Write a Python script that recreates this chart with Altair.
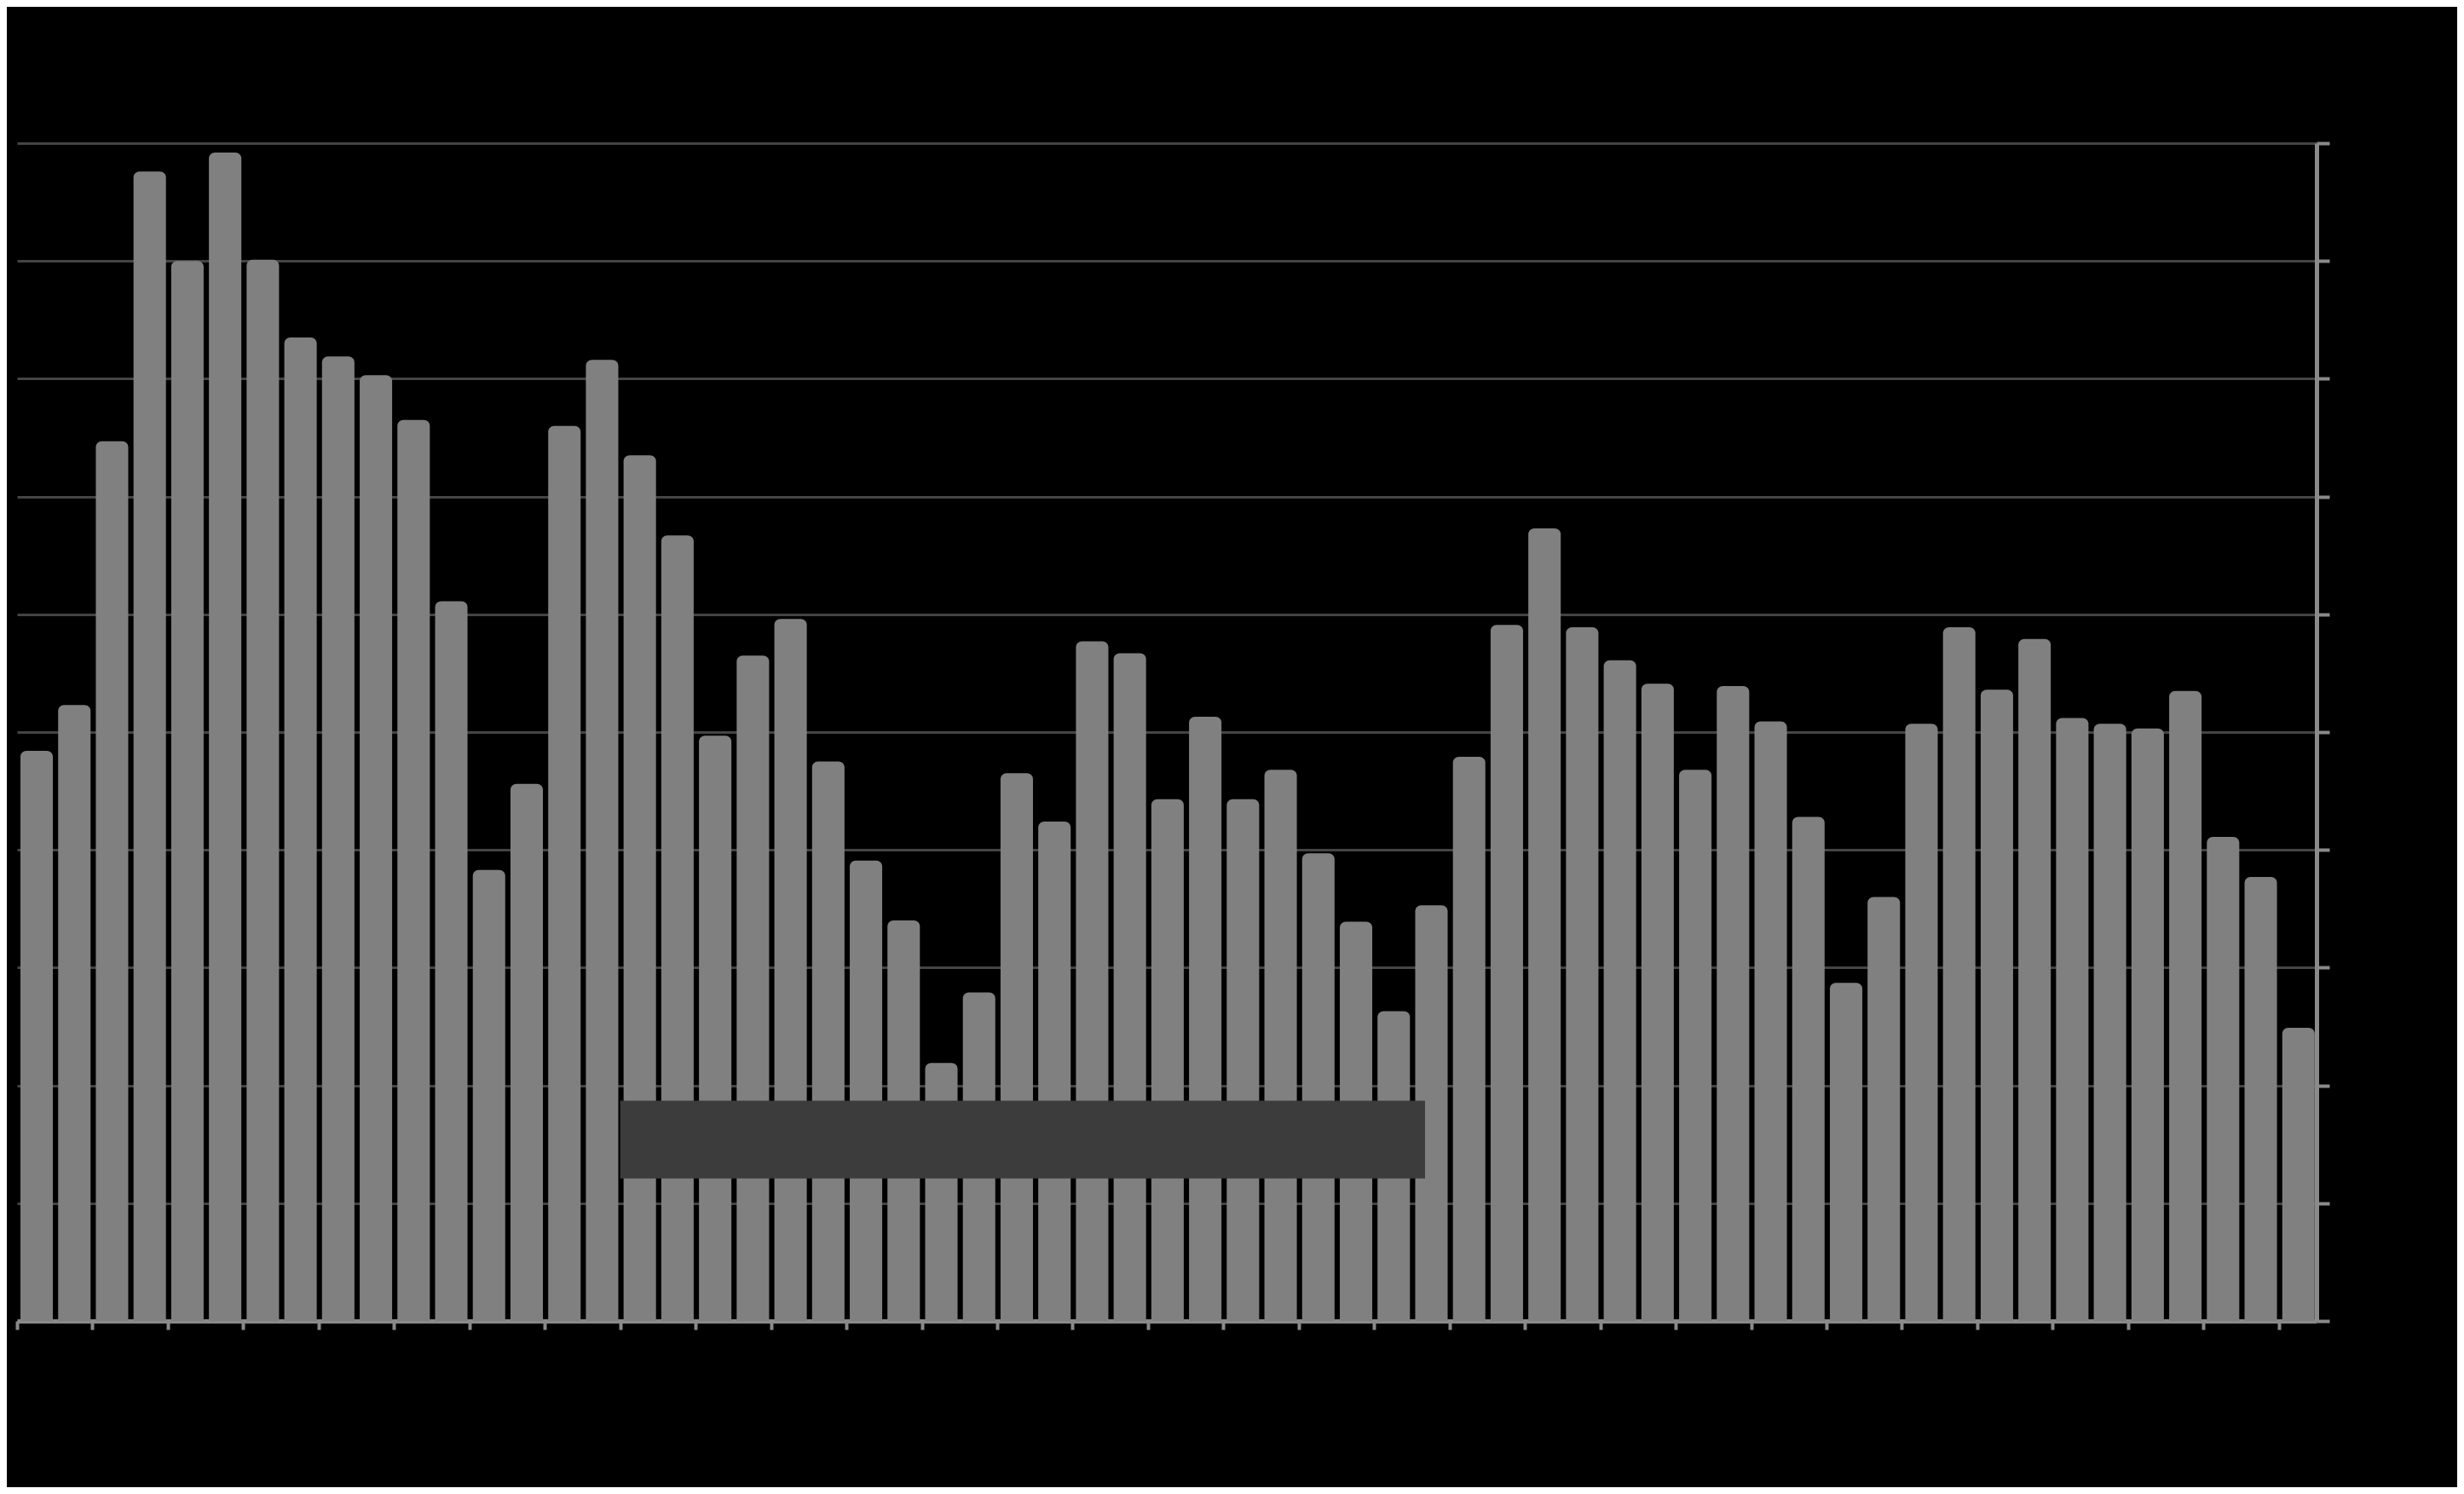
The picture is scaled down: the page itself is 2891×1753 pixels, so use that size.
import altair as alt
import pandas as pd

# Bar values (0-100 scale, gridlines every 10)
values = [48.4, 52.3, 74.7, 97.6, 90.0, 99.2, 90.1, 83.5, 81.9, 80.3,
          76.5, 61.1, 38.3, 45.6, 76.0, 81.6, 73.5, 66.7, 49.7, 56.5,
          59.6, 47.5, 39.1, 34.0, 21.9, 27.9, 46.5, 42.4, 57.7, 56.7,
          44.3, 51.3, 44.3, 46.8, 39.7, 33.9, 26.3, 35.3, 47.9, 59.1,
          67.3, 58.9, 56.1, 54.1, 46.8, 53.9, 50.9, 42.8, 28.7, 36.0,
          50.7, 58.9, 53.6, 57.9, 51.2, 50.7, 50.3, 53.5, 41.1, 37.7,
          24.9]
positions = list(range(len(values)))

# overlay box (in category units / value units)
box_x = [16.0]
box_x2 = [37.35]
box_y = [12.1]
box_y2 = [18.7]

y_ticks = list(range(0, 101, 10))
x_ticks = list(range(0, 61, 2))

bars_df = pd.DataFrame({
    "start": [p + 0.09 for p in positions],
    "end": [p + 0.95 for p in positions],
    "value": values,
    "base": [0] * len(values),
})
box_df = pd.DataFrame({"x": box_x, "x2": box_x2, "y": box_y, "y2": box_y2})

x_scale = alt.Scale(domain=[0, len(values)], nice=False, zero=False)
y_scale = alt.Scale(domain=[0, 100], nice=False)

bars = alt.Chart(bars_df).mark_bar(
    color="#808080", cornerRadiusTopLeft=7, cornerRadiusTopRight=7
).encode(
    x=alt.X("start:Q", scale=x_scale, axis=alt.Axis(
        values=x_ticks, labels=False, title=None, grid=False,
        tickSize=10, tickWidth=4, tickColor="#8a8a8a",
        domainColor="#8a8a8a", domainWidth=5)),
    x2="end:Q",
    y=alt.Y("value:Q", scale=y_scale, axis=alt.Axis(
        orient="right", values=y_ticks, labels=False, title=None,
        grid=True, gridColor="#444444", gridWidth=3,
        tickSize=15, tickWidth=4, tickColor="#8a8a8a",
        domainColor="#8a8a8a", domainWidth=5)),
    y2="base:Q",
)

box = alt.Chart(box_df).mark_rect(color="#3c3c3c").encode(
    x=alt.X("x:Q", scale=x_scale),
    x2="x2:Q",
    y=alt.Y("y:Q", scale=y_scale),
    y2="y2:Q",
)

chart = alt.layer(bars, box).properties(
    width=2698, height=1382,
    padding={"left": 12, "top": 160, "right": 165, "bottom": 195},
    autosize=alt.AutoSizeParams(type="none"),
    background="#000000",
).configure_view(stroke=None)

chart.save("out.html", embed_options={"renderer": "svg", "actions": False})
